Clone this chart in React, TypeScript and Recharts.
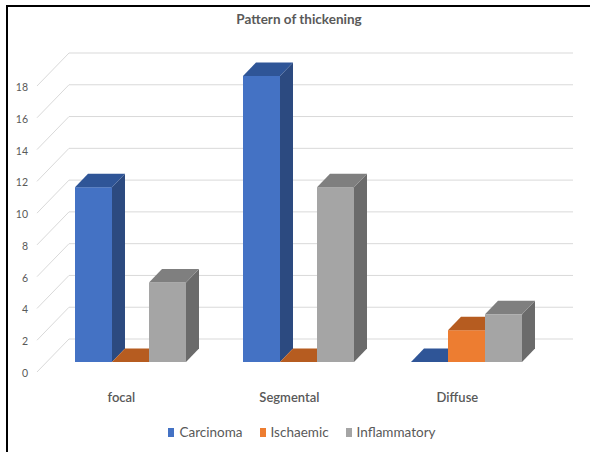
import React from 'react';
import { BarChart, Bar, XAxis, YAxis, CartesianGrid } from 'recharts';

const categories = ['focal', 'Segmental', 'Diffuse'];
const carcinoma = [11, 18, 0];
const ischaemic = [0, 0, 2];
const inflammatory = [5, 11, 3];
const yTicks = [0, 2, 4, 6, 8, 10, 12, 14, 16, 18];
const seriesNames = ['Carcinoma', 'Ischaemic', 'Inflammatory'];
const seriesKeys = ['carcinoma', 'ischaemic', 'inflammatory'];
const frontColors = ['#4472c4', '#ed7d31', '#a5a5a5'];
const topColors = ['#2f5597', '#b65c20', '#7f7f7f'];
const sideColors = ['#2c4a80', '#a3521c', '#6b6b6b'];

const data = categories.map((c, i) => ({
  name: c,
  carcinoma: carcinoma[i],
  ischaemic: ischaemic[i],
  inflammatory: inflammatory[i],
}));

const DX = 13;
const DY = 13.5;
const FONT = 'Lato, "Open Sans", sans-serif';
const TEXT = '#595959';

const make3D = (idx: number) => (props: any) => {
  const { x, y, width, height } = props;
  if (x == null || y == null) return <g />;
  const h = Math.max(0, height || 0);
  const w = width;
  const top = `${x},${y} ${x + DX},${y - DY} ${x + w + DX},${y - DY} ${x + w},${y}`;
  const side = `${x + w},${y} ${x + w + DX},${y - DY} ${x + w + DX},${y + h - DY} ${x + w},${y + h}`;
  return (
    <g>
      {h > 0 && <rect x={x} y={y} width={w} height={h} fill={frontColors[idx]} />}
      {h > 0 && <polygon points={side} fill={sideColors[idx]} />}
      <polygon points={top} fill={topColors[idx]} />
    </g>
  );
};

const gridLine = (props: any) => {
  const { x1, y1, x2, key } = props;
  const bx1 = x1 + 22;
  const by = y1 - 23;
  const bx2 = x2 + 22;
  return (
    <g key={key}>
      <line x1={bx1} y1={by} x2={bx2} y2={by} stroke="#d9d9d9" strokeWidth={1} />
      <line x1={bx1} y1={by} x2={x1 - 10} y2={y1 + 10} stroke="#d9d9d9" strokeWidth={1} />
    </g>
  );
};

const XTick = (props: any) => {
  const { x, y, payload } = props;
  return (
    <text x={x - 9.6} y={y + 35} textAnchor="middle" dominantBaseline="central" fill={TEXT}
      style={{ fontFamily: FONT, fontSize: 13, fontWeight: 600 }}>
      {payload.value}
    </text>
  );
};

const YTick = (props: any) => {
  const { x, y, payload } = props;
  return (
    <text x={x - 19} y={y + 11} textAnchor="end" dominantBaseline="central" fill={TEXT}
      style={{ fontFamily: FONT, fontSize: 10.5 }}>
      {payload.value}
    </text>
  );
};

export default function App() {
  return (
    <div style={{ position: 'absolute', left: 0, top: 0, width: 590, height: 452, background: '#fff', overflow: 'hidden' }}>
      <div style={{ position: 'absolute', left: 6, top: 5, width: 590, height: 452, borderTop: '2px solid #000', borderLeft: '2px solid #000', boxSizing: 'border-box' }} />
      <div style={{ position: 'absolute', left: 0, top: 11, width: 598, textAlign: 'center', fontFamily: FONT, fontSize: 13.5, fontWeight: 700, color: TEXT }}>
        Pattern of thickening
      </div>
      <div style={{ position: 'absolute', left: 0, top: 0 }}>
        <BarChart width={590} height={452} data={data} margin={{ top: 76, right: 39, bottom: 60, left: 17 }}
          barCategoryGap={28} barGap={0}>
          <CartesianGrid vertical={false} horizontal={gridLine} />
          <XAxis dataKey="name" axisLine={false} tickLine={false} tickSize={0} tickMargin={0} height={30}
            tick={(p: any) => <XTick {...p} />} interval={0} />
          <YAxis domain={[0, 18]} ticks={yTicks} interval={0} axisLine={false} tickLine={false} tickSize={0}
            tickMargin={0} width={30} tick={(p: any) => <YTick {...p} />} />
          {seriesKeys.map((k, i) => (
            <Bar key={k} dataKey={k} name={seriesNames[i]} fill={frontColors[i]} isAnimationActive={false} shape={make3D(i)} />
          ))}
        </BarChart>
      </div>
      <div style={{ position: 'absolute', left: 0, top: 424, width: 604, display: 'flex', justifyContent: 'center', fontFamily: FONT, fontSize: 13.5, color: TEXT }}>
        {seriesNames.map((n, i) => (
          <div key={n} style={{ display: 'flex', alignItems: 'center', marginRight: i < 2 ? 17 : 0 }}>
            <span style={{ display: 'inline-block', width: 6, height: 9, background: frontColors[i], marginRight: 5 }} />
            <span>{n}</span>
          </div>
        ))}
      </div>
    </div>
  );
}
